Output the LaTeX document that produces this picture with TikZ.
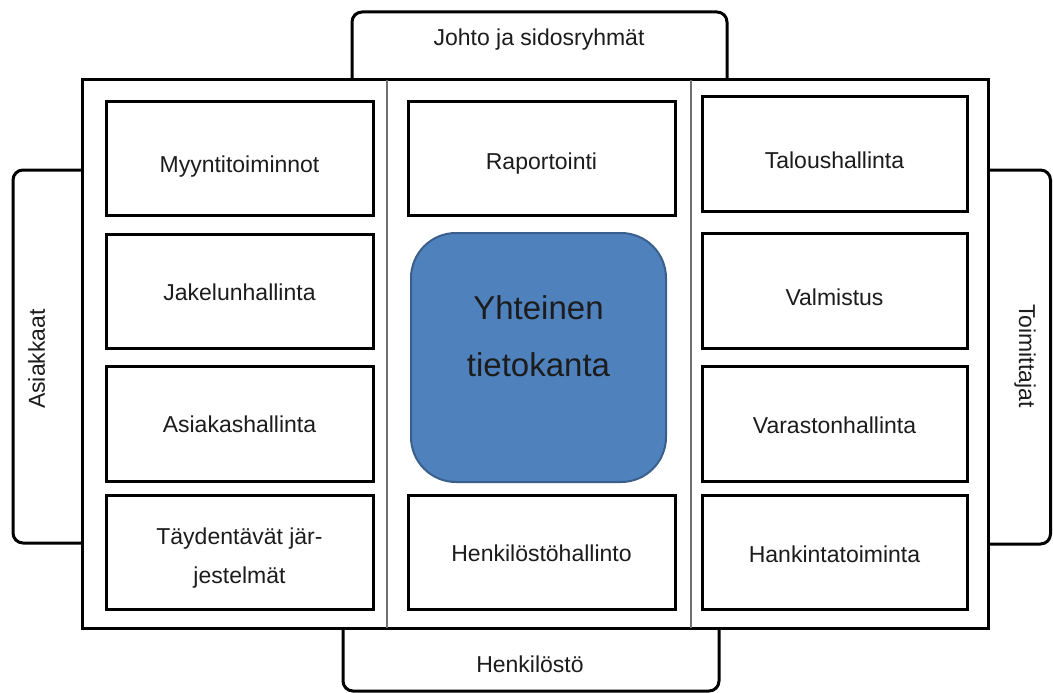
\documentclass[tikz,border=0pt]{standalone}
\usepackage{fontspec}
\setmainfont{Liberation Sans}
\definecolor{dbfill}{HTML}{4F81BD}
\definecolor{dbline}{HTML}{3B5F8C}
\definecolor{divgray}{HTML}{707070}
\definecolor{ink}{HTML}{1C1C1C}
\tikzset{
  tabshape/.style={draw=black, line width=3pt, fill=white, rounded corners=10pt},
  outerframe/.style={draw=black, line width=3pt, fill=white},
  divider/.style={draw=divgray, line width=1.3pt},
  tablabel/.style={inner sep=0pt, text=ink, font=\fontsize{23}{39}\selectfont},
  module/.style={draw=black, line width=3pt, fill=white, inner sep=0pt,
    align=center, text=ink, font=\fontsize{23}{39}\selectfont, text depth=0pt},
  leftcol/.style={module, minimum width=267pt},
  midcol/.style={module, minimum width=267pt},
  rightcol/.style={module, minimum width=265pt},
  database/.style={draw=dbline, line width=2pt, fill=dbfill, rounded corners=45pt,
    minimum width=255pt, minimum height=249pt, inner sep=0pt, align=center,
    text=ink, font=\fontsize{33}{57}\selectfont}
}
\begin{document}
\begin{tikzpicture}[x=1pt, y=-1pt]
\useasboundingbox (0,0) rectangle (1053,693);

% stakeholder tabs around the system frame
\draw[tabshape] (352,12) rectangle (727,120);
\draw[tabshape] (343,560) rectangle (719,691);
\draw[tabshape] (13,170) rectangle (120,543);
\draw[tabshape] (950,170) rectangle (1050.5,544);

% system frame with three columns
\draw[outerframe] (82,80) rectangle (988,628);
\draw[divider] (387,80) -- (387,628);
\draw[divider] (691,80) -- (691,628);

% tab labels
\node[tablabel, anchor=base] (johto) at (539,45.7) {Johto ja sidosryhmät};
\node[tablabel, anchor=base] (henkilosto) at (530,672.7) {Henkilöstö};
\node[tablabel, rotate=90, anchor=base] (asiakkaat) at (45,359) {Asiakkaat};
\node[tablabel, rotate=-90, anchor=base] (toimittajat) at (1019,356) {Toimittajat};

% left column
\node[leftcol, minimum height=113pt, text height=27.5pt] (myynti) at (239.5,158.5) {Myyntitoiminnot};
\node[leftcol, minimum height=114pt, text height=18.5pt] (jakelu) at (239.5,291) {Jakelunhallinta};
\node[leftcol, minimum height=115pt, text height=17.5pt] (asiakas) at (239.5,423.5) {Asiakashallinta};
\node[leftcol, minimum height=114pt, text height=62pt] (taydentavat) at (239.5,552) {Täydentävät jär-\\jestelmät};

% middle column
\node[midcol, minimum height=113pt, text height=21.5pt] (raportointi) at (541.5,158.5) {Raportointi};
\node[database, text height=37pt, text depth=0pt] (tietokanta) at (538.5,357.5) {Yhteinen\\tietokanta};
\node[midcol, minimum height=114pt, text height=18.5pt] (henkhallinto) at (541.5,552) {Henkilöstöhallinto};

% right column
\node[rightcol, minimum height=114pt, text height=28.5pt] (talous) at (834.5,154) {Taloushallinta};
\node[rightcol, minimum height=115pt, text height=29.5pt] (valmistus) at (834.5,290.5) {Valmistus};
\node[rightcol, minimum height=115pt, text height=19.5pt] (varasto) at (834.5,423.5) {Varastonhallinta};
\node[rightcol, minimum height=114pt, text height=20pt] (hankinta) at (834.5,552) {Hankintatoiminta};
\end{tikzpicture}
\end{document}
